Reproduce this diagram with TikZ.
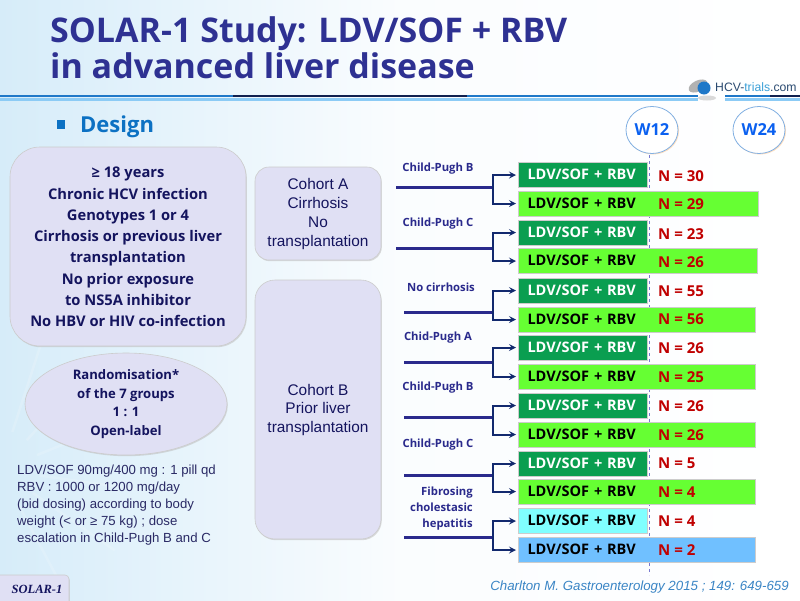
\documentclass[tikz,border=0pt]{standalone}
\usepackage{fontspec}
\setmainfont{Open Sans}
\newfontfamily\arialfont{Liberation Sans}
\newfontfamily\timesfont{Liberation Serif}
\usetikzlibrary{calc}
\usetikzlibrary{shapes.geometric}
\usetikzlibrary{shadows}
\definecolor{titleblue}{HTML}{2E3192}
\definecolor{designblue}{HTML}{0C71C3}
\definecolor{panel}{HTML}{E0E0F4}
\definecolor{panelink}{HTML}{14145E}
\definecolor{trunkblue}{HTML}{2A2A8C}
\definecolor{branchblue}{HTML}{12296E}
\definecolor{darkgreen}{HTML}{0A9E50}
\definecolor{lightgreen}{HTML}{66FF33}
\definecolor{paleblue}{HTML}{80FFFF}
\definecolor{midblue}{HTML}{70C0FF}
\definecolor{nred}{HTML}{C00000}
\definecolor{weekblue}{HTML}{0A60F0}
\definecolor{linkblue}{HTML}{3A85C5}
\definecolor{bgleft}{HTML}{D6ECF9}
\definecolor{rulelight}{HTML}{8CCBF5}
\definecolor{rulemid}{HTML}{1F78C8}
\definecolor{ruledark}{HTML}{10204F}
\definecolor{logoink}{HTML}{2A4A70}
\definecolor{logocyan}{HTML}{3AA0D8}
\begin{document}
\begin{tikzpicture}[
x=1pt,y=-1pt,
panelbox/.style={
  draw=gray!40,
  fill=panel,
  line width=.6pt,
  drop shadow={shadow xshift=.8pt,shadow yshift=-1.2pt,fill=gray!55}},
roundbox/.style={
  panelbox,
  rectangle,
  rounded corners=#1},
cohort/.style={
  align=center,
  font=\arialfont\fontsize{15.4}{18.8}\selectfont,
  text=panelink},
armbox/.style={
  draw=gray!40,
  line width=1pt,
  anchor=west,
  minimum height=25pt,
  inner xsep=9pt,
  inner ysep=0pt,
  text=black,
  font=\bfseries\fontsize{14.5}{16}\selectfont},
count/.style={
  anchor=west,
  inner sep=0pt,
  text=nred,
  font=\bfseries\fontsize{15}{16}\selectfont},
grouplabel/.style={
  align=right,
  inner sep=0pt,
  text=trunkblue,
  font=\bfseries\fontsize{11.3}{16}\selectfont},
week/.style={
  ellipse,
  draw=cyan!60!blue!50,
  fill=white,
  line width=.8pt,
  minimum width=52pt,
  minimum height=47pt,
  inner sep=0pt,
  text=weekblue,
  font=\bfseries\fontsize{16.5}{18}\selectfont,
  drop shadow={shadow xshift=1pt,shadow yshift=-1pt,fill=orange!50}},
trunk/.style={
  draw=trunkblue,
  line width=3pt},
branch/.style={
  draw=branchblue,
  line width=2pt,
  -stealth,
  shorten >=2pt}
]
\useasboundingbox (0,0) rectangle (800,600);
% background
\shade[left color=bgleft,right color=white,middle color=bgleft!12] (0,0) rectangle (800,600);
\foreach \Ray in {-72,-48,-22,8,35,62}
  \draw[white,line width=2.5pt,opacity=.16] (0,470) ++(\Ray:40) -- ++(\Ray:100);
% header rule
\fill[rulelight] (0,98) rectangle (698,101);
\fill[rulelight] (725,98) rectangle (800,101);
\fill[rulemid] (0,95) rectangle (233,97);
\fill[ruledark] (233,95) rectangle (467,97);
\fill[rulemid] (467,95) rectangle (698,97);
\fill[rulemid] (725,95) rectangle (770,97);
\fill[ruledark] (770,95) rectangle (800,97);
% logo
\fill[gray!30] (707,98) ellipse [x radius=9,y radius=2.5];
\fill[gray!60,rotate around={25:(698,86)}] (698,86) ellipse [x radius=10,y radius=5.5];
\fill[rulemid] (704,88) circle [radius=6.5];
\node[anchor=west,inner sep=0pt,font=\arialfont\fontsize{12.2}{14}\selectfont] (logo) at (715,87)
  {\textcolor{logoink}{HCV-}\textcolor{logocyan}{trials}\textcolor{logoink}{.com}};
% title
\node[anchor=base west,inner sep=0pt,text=titleblue,font=\bfseries\fontsize{34}{36}\selectfont] (title1) at (50,42)
  {SOLAR-1 Study: LDV/SOF + RBV};
\node[anchor=base west,inner sep=0pt,text=titleblue,font=\bfseries\fontsize{34}{36}\selectfont] (title2) at (50,78)
  {in advanced liver disease};
\fill[designblue] (57,120) rectangle (65,129);
\node[anchor=west,inner sep=0pt,text=designblue,font=\bfseries\fontsize{22}{25}\selectfont] (design) at (80,127) {Design};
% week markers
\draw[dashed,draw=gray!50!blue!70,line width=.7pt] (649,155) -- (649,575);
\node[week] (W12) at (652,130) {W12};
\node[week] (W24) at (759,130) {W24};
% left panels
\path[roundbox=30pt] (10,147) rectangle (246,346);
\foreach \Line/\Txt in {172/{≥ 18 years},193.5/Chronic HCV infection,215/Genotypes 1 or 4,236/Cirrhosis or previous liver,257/transplantation,279/No prior exposure,300/to NS5A inhibitor,321/No HBV or HIV co-infection}
  \node[anchor=base,text=panelink,inner sep=0pt,font=\bfseries\fontsize{14.7}{16}\selectfont] at (128,\Line+5.5) {\Txt};
\node[ellipse,panelbox,minimum width=202pt,minimum height=102pt,inner sep=0pt,align=center,
  text=panelink,font=\bfseries\fontsize{13.1}{18.7}\selectfont] (rando) at (126,404)
  {Randomisation*\\of the 7 groups\\1 : 1\\Open-label};
\node[anchor=north west,inner sep=0pt,align=left,text=panelink!80!gray,
  font=\arialfont\fontsize{13.2}{17}\selectfont] (dosing) at (17,465)
  {LDV/SOF 90mg/400 mg : 1 pill qd\\RBV : 1000 or 1200 mg/day\\(bid dosing) according to body\\weight (< or ≥ 75 kg) ; dose\\escalation in Child-Pugh B and C};
% cohorts
\path[roundbox=14pt] (255,167) rectangle (381,260);
\node[cohort] (cohortA) at (318,214) {Cohort A\\Cirrhosis\\No\\transplantation};
\path[roundbox=20pt] (255,280) rectangle (381,539);
\node[cohort] (cohortB) at (318,410) {Cohort B\\Prior liver\\transplantation};
% arms
\foreach \Row/\Mid/\Wide/\Fill/\Ink/\Num/\Yn in {
  1/175/129/darkgreen/white/30/176,
  2/203.5/240/lightgreen/black/29/204,
  3/232.5/129/darkgreen/white/23/234,
  4/261/239/lightgreen/black/26/262,
  5/290.5/129/darkgreen/white/55/291,
  6/319.5/237/lightgreen/black/56/319,
  7/347.5/129/darkgreen/white/26/348,
  8/376.5/237/lightgreen/black/25/377,
  9/405.5/129/darkgreen/white/26/406,
  10/434.5/237/lightgreen/black/26/435,
  11/463.5/129/darkgreen/white/5/463,
  12/491.5/237/lightgreen/black/4/492,
  13/521/129/paleblue/black/4/521,
  14/550/237/midblue/black/2/550}{
  \node[armbox,fill=\Fill,text=\Ink,minimum width=\Wide pt,text width=\Wide pt-18pt] (arm\Row) at (518,\Mid)
    {\raisebox{1.5pt}{LDV/SOF + RBV}};
  \node[count] (n\Row) at (658,\Yn) {N = \Num};
}
% groups
\foreach \Grp/\Up/\Down/\Y/\Start in {1/1/2/187/396,2/3/4/248/396,3/5/6/312/404,4/7/8/362/404,5/9/10/417/404,6/11/12/475/404,7/13/14/537/404}{
  \coordinate (T\Grp) at (\Start,\Y);
  \coordinate (J\Grp) at (493,\Y);
  \draw[trunk] (T\Grp) -- (J\Grp);
  \draw[branch] (J\Grp) |- (arm\Up.west);
  \draw[branch] (J\Grp) |- (arm\Down.west);
}
\node[grouplabel] (g1) at (438,169) {Child-Pugh B};
\node[grouplabel] (g2) at (438,224) {Child-Pugh C};
\node[grouplabel] (g3) at (441,287) {No cirrhosis};
\node[grouplabel] (g4) at (438,338) {Chid-Pugh A};
\node[grouplabel] (g5) at (438,388) {Child-Pugh B};
\node[grouplabel] (g6) at (438,445) {Child-Pugh C};
\node[grouplabel,anchor=east] (g7) at (473,509) {Fibrosing\\cholestasic\\hepatitis};
% footer
\path[panelbox,rounded corners=4pt] (-5,575) rectangle (69,606);
\node[text=panelink,inner sep=0pt,font=\timesfont\bfseries\itshape\fontsize{12.5}{14}\selectfont] (tag) at (37,589) {SOLAR-1};
\node[anchor=east,inner sep=0pt,text=linkblue,font=\arialfont\itshape\fontsize{13.3}{15}\selectfont] (cite) at (789,587)
  {Charlton M. Gastroenterology 2015 ; 149: 649-659};
\end{tikzpicture}
\end{document}
